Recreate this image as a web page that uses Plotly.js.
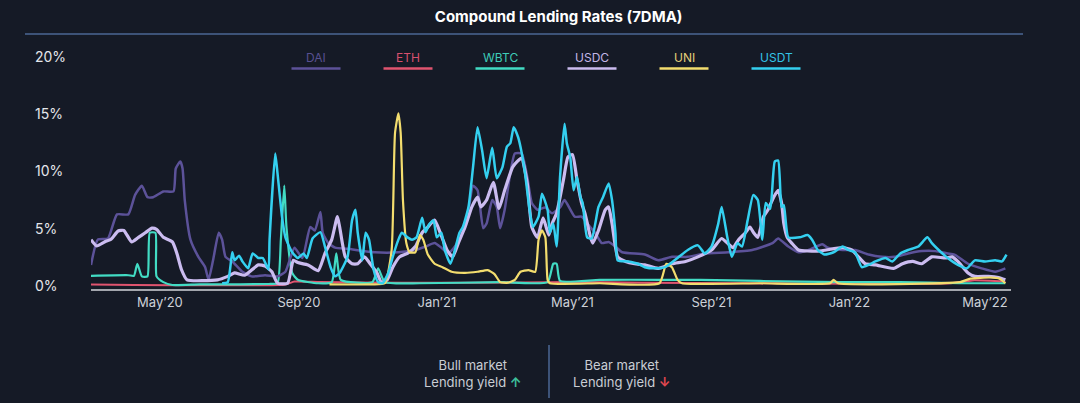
<!DOCTYPE html>
<html>
<head>
<meta charset="utf-8">
<script src="https://cdn.plot.ly/plotly-3.0.1.min.js"></script>
<style>
  html, body { margin: 0; padding: 0; background: #151a26; }
  #chart { width: 1080px; height: 403px; }
</style>
</head>
<body>
<div id="chart"></div>
<script>
// ---- Data (% APY, 7-day moving average) ----
const seriesNames = ["DAI", "ETH", "WBTC", "USDC", "UNI", "USDT"];

const daiDates = ["2020-03-01","2020-03-07","2020-03-16","2020-03-24","2020-04-03","2020-04-09","2020-04-15","2020-04-20","2020-04-25","2020-05-04","2020-05-13","2020-05-15","2020-05-19","2020-05-21","2020-05-23","2020-05-28","2020-06-04","2020-06-10","2020-06-13","2020-06-17","2020-06-22","2020-06-25","2020-06-28","2020-07-04","2020-07-13","2020-07-21","2020-08-02","2020-08-13","2020-08-20","2020-08-28","2020-09-04","2020-09-11","2020-09-15","2020-09-20","2020-09-22","2020-09-27","2020-10-03","2020-10-14","2020-11-07","2020-11-28","2020-12-13","2020-12-22","2020-12-30","2021-01-05","2021-01-11","2021-01-17","2021-01-23","2021-01-29","2021-02-02","2021-02-06","2021-02-11","2021-02-14","2021-02-19","2021-02-23","2021-02-26","2021-03-02","2021-03-07","2021-03-11","2021-03-17","2021-03-22","2021-03-26","2021-03-31","2021-04-07","2021-04-13","2021-04-20","2021-04-24","2021-05-03","2021-05-09","2021-05-15","2021-05-21","2021-05-27","2021-06-02","2021-06-08","2021-06-14","2021-07-04","2021-07-16","2021-07-28","2021-08-11","2021-08-26","2021-09-16","2021-10-07","2021-10-25","2021-10-30","2021-11-08","2021-11-17","2021-11-26","2021-12-08","2021-12-13","2021-12-26","2022-01-06","2022-01-18","2022-01-30","2022-02-10","2022-02-22","2022-03-06","2022-03-18","2022-03-29","2022-04-04","2022-04-16","2022-04-28","2022-05-10","2022-05-19"];
const daiValues = [1.8,4.0,4.1,6.2,6.2,7.9,8.7,7.7,7.7,8.2,8.2,10.2,10.8,10.2,7.4,4.0,2.5,1.6,0.5,2.2,4.6,4.0,2.5,2.1,1.2,0.8,0.9,0.8,1.2,3.3,2.4,5.1,4.8,6.4,4.6,3.7,3.3,3.2,2.9,2.9,3.1,3.4,3.7,3.3,2.8,3.4,4.65,6.6,8.7,8.3,5.0,5.4,7.45,6.85,5.0,6.6,9.8,11.5,11.5,9.45,7.2,6.6,6.8,6.3,6.8,7.45,6.0,6.0,5.3,4.6,3.7,3.8,3.4,2.9,2.7,2.2,2.5,2.5,2.8,2.9,3.1,3.7,4.1,3.4,2.9,3.1,3.6,3.3,3.1,3.1,2.7,2.5,2.5,2.8,3.0,3.0,2.8,2.7,1.9,1.5,1.2,1.5];

const ethDates = ["2020-03-01","2020-08-20","2020-08-28","2020-09-20","2020-12-01","2021-02-01","2021-05-01","2021-07-01","2021-10-01","2022-01-01","2022-04-01","2022-04-20","2022-05-19"];
const ethValues = [0.1,0.1,0.35,0.3,0.25,0.25,0.3,0.25,0.2,0.15,0.2,0.45,0.35];

const wbtcDates = ["2020-03-01","2020-04-03","2020-04-08","2020-04-11","2020-04-15","2020-04-20","2020-04-22","2020-04-27","2020-04-28","2020-05-04","2020-05-12","2020-06-05","2020-07-11","2020-08-06","2020-08-13","2020-08-16","2020-08-19","2020-08-21","2020-08-26","2020-08-31","2020-09-18","2020-09-30","2020-10-04","2020-10-08","2020-11-05","2020-11-10","2020-11-16","2020-12-17","2021-02-26","2021-04-09","2021-04-14","2021-04-17","2021-04-20","2021-05-25","2021-07-18","2021-08-22","2021-10-14","2021-12-24","2022-02-15","2022-04-09","2022-05-19"];
const wbtcValues = [0.85,0.9,0.85,1.9,0.8,0.8,4.6,4.6,0.8,0.3,0.05,0.1,0.1,0.15,0.2,4.0,8.7,5.0,1.1,0.5,0.2,0.3,2.8,0.5,0.3,1.5,0.3,0.2,0.3,0.3,1.9,1.9,0.4,0.5,0.5,0.5,0.4,0.3,0.3,0.2,0.2];

const usdcDates = ["2020-03-01","2020-03-06","2020-03-13","2020-03-19","2020-03-25","2020-03-30","2020-04-06","2020-04-12","2020-04-18","2020-04-24","2020-04-28","2020-05-04","2020-05-12","2020-05-16","2020-05-20","2020-05-25","2020-06-21","2020-06-30","2020-07-06","2020-07-15","2020-07-27","2020-08-02","2020-08-08","2020-08-13","2020-08-22","2020-08-27","2020-08-31","2020-09-09","2020-09-18","2020-09-24","2020-09-30","2020-10-05","2020-10-07","2020-10-12","2020-10-18","2020-10-23","2020-10-29","2020-11-03","2020-11-09","2020-11-13","2020-11-18","2020-11-23","2020-11-29","2020-12-06","2020-12-13","2020-12-19","2020-12-24","2020-12-30","2021-01-04","2021-01-10","2021-01-15","2021-01-20","2021-01-26","2021-02-01","2021-02-06","2021-02-09","2021-02-14","2021-02-20","2021-02-25","2021-03-02","2021-03-09","2021-03-13","2021-03-17","2021-03-22","2021-03-26","2021-03-31","2021-04-05","2021-04-10","2021-04-13","2021-04-17","2021-04-23","2021-04-27","2021-05-01","2021-05-05","2021-05-09","2021-05-12","2021-05-17","2021-05-19","2021-05-24","2021-05-30","2021-06-02","2021-06-05","2021-06-10","2021-06-17","2021-06-25","2021-07-04","2021-07-16","2021-07-28","2021-08-09","2021-08-20","2021-09-01","2021-09-10","2021-09-15","2021-09-20","2021-09-25","2021-10-01","2021-10-05","2021-10-08","2021-10-12","2021-10-17","2021-10-21","2021-10-26","2021-10-30","2021-11-02","2021-11-04","2021-11-07","2021-11-11","2021-11-17","2021-12-04","2021-12-26","2022-01-03","2022-01-09","2022-01-15","2022-01-24","2022-02-09","2022-02-17","2022-02-26","2022-03-06","2022-03-15","2022-03-27","2022-04-02","2022-04-07","2022-04-16","2022-04-22","2022-05-04","2022-05-13","2022-05-19"];
const usdcValues = [4.0,3.45,3.8,4.05,4.75,4.8,3.8,4.2,4.6,5.0,4.9,4.2,3.8,2.8,1.4,0.5,0.5,0.8,1.1,0.9,1.8,1.7,1.2,0.2,0.2,2.2,2.0,1.8,1.3,2.8,4.0,6.0,5.1,2.5,1.9,1.9,2.5,1.9,1.1,0.3,0.5,1.6,2.5,2.8,3.4,4.6,5.1,5.7,4.6,3.1,2.5,3.7,5.1,6.85,7.7,6.85,7.45,9.0,6.7,8.3,10.3,10.8,11.1,8.9,5.1,4.2,5.9,4.4,5.4,6.3,9.2,11.2,11.4,9.2,7.2,6.3,4.2,3.7,4.8,6.6,6.85,5.4,2.5,2.1,1.9,1.8,1.5,1.9,2.1,2.5,3.1,4.1,3.7,3.3,4.0,4.6,5.1,4.65,4.2,6.0,6.6,7.7,8.3,7.2,5.4,4.2,3.7,3.1,3.0,3.3,3.1,2.5,1.9,1.8,1.5,1.9,2.1,1.9,2.5,2.4,2.5,2.1,1.1,0.8,0.8,0.7,0.5];

const uniDates = ["2020-09-28","2020-11-05","2020-11-16","2020-11-22","2020-11-25","2020-11-28","2020-11-30","2020-12-02","2020-12-05","2020-12-08","2020-12-13","2020-12-17","2020-12-20","2020-12-24","2020-12-30","2021-01-06","2021-01-14","2021-01-26","2021-02-06","2021-02-15","2021-02-21","2021-02-26","2021-03-05","2021-03-11","2021-03-16","2021-03-23","2021-03-29","2021-04-01","2021-04-04","2021-04-07","2021-04-09","2021-04-11","2021-05-25","2021-07-17","2021-07-23","2021-07-28","2021-08-02","2021-08-06","2021-10-14","2021-12-15","2021-12-18","2021-12-22","2022-04-09","2022-04-18","2022-05-06","2022-05-14","2022-05-19"];
const uniValues = [0.1,0.1,0.2,3.1,13.3,15.0,13.3,7.45,3.7,2.9,2.9,4.4,4.0,2.7,1.9,1.6,1.2,1.1,1.2,1.35,1.0,0.3,0.25,0.5,1.2,1.35,1.2,4.0,4.8,4.2,0.5,0.2,0.2,0.2,1.9,1.6,0.5,0.2,0.2,0.2,0.5,0.2,0.3,0.6,0.7,0.6,0.2];

const usdtDates = ["2020-06-25","2020-06-30","2020-07-04","2020-07-06","2020-07-10","2020-07-13","2020-07-18","2020-07-22","2020-07-27","2020-07-31","2020-08-05","2020-08-06","2020-08-11","2020-08-13","2020-08-17","2020-08-20","2020-08-26","2020-08-31","2020-09-05","2020-09-08","2020-09-13","2020-09-20","2020-09-24","2020-09-29","2020-10-03","2020-10-07","2020-10-14","2020-10-18","2020-10-21","2020-10-23","2020-10-27","2020-10-30","2020-11-02","2020-11-06","2020-11-10","2020-11-14","2020-11-19","2020-11-23","2020-11-28","2020-12-01","2020-12-06","2020-12-10","2020-12-14","2020-12-19","2020-12-22","2020-12-25","2020-12-29","2021-01-01","2021-01-05","2021-01-08","2021-01-13","2021-01-17","2021-01-21","2021-01-24","2021-01-29","2021-02-02","2021-02-06","2021-02-10","2021-02-14","2021-02-19","2021-02-23","2021-02-28","2021-03-04","2021-03-07","2021-03-10","2021-03-14","2021-03-17","2021-03-20","2021-03-24","2021-03-27","2021-04-01","2021-04-04","2021-04-09","2021-04-11","2021-04-14","2021-04-17","2021-04-20","2021-04-24","2021-04-26","2021-04-29","2021-05-02","2021-05-05","2021-05-08","2021-05-10","2021-05-14","2021-05-18","2021-05-24","2021-05-28","2021-06-02","2021-06-05","2021-06-08","2021-06-10","2021-06-19","2021-06-28","2021-07-04","2021-07-13","2021-07-22","2021-08-02","2021-08-11","2021-08-20","2021-08-26","2021-09-01","2021-09-07","2021-09-10","2021-09-15","2021-09-19","2021-09-24","2021-09-28","2021-10-03","2021-10-08","2021-10-12","2021-10-16","2021-10-19","2021-10-23","2021-10-27","2021-10-30","2021-11-02","2021-11-04","2021-11-08","2021-11-18","2021-11-25","2021-11-29","2021-12-04","2021-12-10","2021-12-18","2021-12-26","2021-12-31","2022-01-06","2022-01-12","2022-01-18","2022-01-24","2022-02-02","2022-02-08","2022-02-15","2022-02-22","2022-03-03","2022-03-11","2022-03-15","2022-03-21","2022-03-29","2022-04-07","2022-04-15","2022-04-22","2022-05-01","2022-05-10","2022-05-16","2022-05-20"];
const usdtValues = [0.2,0.3,2.9,2.2,2.6,2.1,1.5,2.8,2.4,2.4,1.4,4.0,11.5,9.8,6.0,4.2,2.9,2.4,2.8,2.4,4.1,4.65,3.4,1.6,0.8,1.1,2.5,5.7,6.6,4.6,2.2,4.6,4.0,1.4,0.3,0.2,1.1,2.5,4.0,4.6,4.2,4.0,4.2,5.9,4.65,5.3,5.7,4.2,4.6,3.1,1.9,3.1,4.6,5.1,6.85,10.3,13.8,11.8,9.35,12.0,9.35,10.3,12.1,12.4,13.8,12.9,11.6,9.8,6.6,5.1,6.0,8.0,6.6,4.6,5.4,3.4,9.45,14.1,12.4,11.2,8.3,9.45,7.7,7.2,4.2,4.1,6.85,7.7,8.9,7.45,4.6,2.2,2.1,1.9,1.6,1.5,1.6,2.4,3.1,3.5,2.8,3.4,5.4,6.85,4.2,2.5,3.7,3.4,5.7,7.9,7.45,4.0,7.2,6.7,10.8,10.9,6.85,7.0,4.2,4.2,4.4,4.0,3.1,2.7,2.9,3.4,3.1,2.9,1.6,1.8,2.1,2.4,2.1,2.8,3.1,3.4,4.2,3.7,3.1,2.4,1.8,1.5,2.2,2.1,2.2,2.1,2.7];

const xTickDates = ["2020-05-01","2020-09-01","2021-01-01","2021-05-01","2021-09-01","2022-01-01","2022-05-01"];
const xTickLabels = ["May’20","Sep’20","Jan’21","May’21","Sep’21","Jan’22","May’22"];
const yTickValues = [0, 5, 10, 15, 20];
const yTickLabels = ["0%", "5%", "10%", "15%", "20%"];

// ---- Styles ----
const lineColors = { DAI: "#5c5299", ETH: "#e0546f", WBTC: "#42dcc4", USDC: "#cbbcf0", UNI: "#f3dd6e", USDT: "#34d0f0" };
const legendTextColors = { DAI: "#585090", ETH: "#d8506d", WBTC: "#3ecdb8", USDC: "#c3b6e8", UNI: "#e3d07a", USDT: "#33c3e6" };
const lineWidths = { DAI: 2.5, ETH: 2, WBTC: 2.2, USDC: 3.2, UNI: 2.2, USDT: 2.5 };

const seriesData = {
  DAI: [daiDates, daiValues], ETH: [ethDates, ethValues], WBTC: [wbtcDates, wbtcValues],
  USDC: [usdcDates, usdcValues], UNI: [uniDates, uniValues], USDT: [usdtDates, usdtValues]
};
const drawOrder = ["ETH", "WBTC", "DAI", "USDC", "UNI", "USDT"];

const traces = drawOrder.map(name => ({
  type: "scatter", mode: "lines", name: name,
  x: seriesData[name][0], y: seriesData[name][1],
  line: { color: lineColors[name], width: lineWidths[name], shape: "spline", smoothing: 0.5 },
  hoverinfo: "skip", showlegend: false
}));

// plot area geometry (paper coords)
const W = 1080, H = 403;
const M = { l: 91, r: 69, t: 56, b: 114 };
const pw = W - M.l - M.r, ph = H - M.t - M.b;
const px = x => (x - M.l) / pw;
const py = y => (H - M.b - y) / ph;

const annotations = [];
const shapes = [];

// y labels (left aligned, like the reference)
yTickValues.forEach((v, i) => {
  annotations.push({ xref: "paper", yref: "y", x: px(33), y: v, xanchor: "left", yanchor: "middle",
    text: yTickLabels[i], showarrow: false, font: { family: "Inter, sans-serif", size: 14, color: "#e4e6eb" } });
});

// custom legend: text above a coloured bar
const legendCenters = [316, 408, 500, 592, 684, 776];
seriesNames.forEach((name, i) => {
  const cx = legendCenters[i];
  annotations.push({ xref: "paper", yref: "paper", x: px(cx), y: py(58), xanchor: "center", yanchor: "middle",
    text: name, showarrow: false, font: { family: "Inter, sans-serif", size: 12, color: legendTextColors[name] } });
  shapes.push({ type: "line", xref: "paper", yref: "paper", x0: px(cx - 24.5), x1: px(cx + 24.5), y0: py(68.5), y1: py(68.5),
    line: { color: lineColors[name], width: 2.5 } });
});

// title underline
shapes.push({ type: "line", xref: "paper", yref: "paper", x0: px(25), x1: px(1023), y0: py(34), y1: py(34),
  line: { color: "#3d5378", width: 2 } });

// bottom note
const noteFont = { family: "Inter, sans-serif", size: 13, color: "#c9cdd4" };
annotations.push({ xref: "paper", yref: "paper", x: px(473), y: py(373), xanchor: "center", yanchor: "middle", showarrow: false,
  align: "center", text: "Bull market<br>Lending yield <span style='color:#3dbf9a'><b>↑</b></span>", font: noteFont });
annotations.push({ xref: "paper", yref: "paper", x: px(622), y: py(373), xanchor: "center", yanchor: "middle", showarrow: false,
  align: "center", text: "Bear market<br>Lending yield <span style='color:#e0474f'><b>↓</b></span>", font: noteFont });
shapes.push({ type: "line", xref: "paper", yref: "paper", x0: px(549), x1: px(549), y0: py(345), y1: py(398),
  line: { color: "#3d5378", width: 2 } });

const layout = {
  width: W, height: H,
  margin: M,
  paper_bgcolor: "#151a26", plot_bgcolor: "#151a26",
  font: { family: "Inter, sans-serif", color: "#d0d4db" },
  showlegend: false,
  title: { text: "<b>Compound Lending Rates (7DMA)</b>", x: 549 / W, xanchor: "center", xref: "paper",
    y: 1 - 17 / H, yanchor: "middle", yref: "container",
    font: { family: "Inter, sans-serif", size: 15, color: "#ffffff" } },
  xaxis: {
    type: "date", range: ["2020-03-01", "2022-05-24"],
    tickvals: xTickDates, ticktext: xTickLabels,
    showgrid: false, zeroline: false, showline: true, linecolor: "#a3a6ad", linewidth: 2,
    ticks: "", ticklen: 0,
    tickfont: { family: "Inter, sans-serif", size: 13, color: "#cdd1d8" }
  },
  yaxis: {
    range: [-0.3, 20], showgrid: false, zeroline: false, showline: false,
    showticklabels: false, ticks: ""
  },
  annotations: annotations,
  shapes: shapes
};

Plotly.newPlot("chart", traces, layout, { staticPlot: true, displayModeBar: false });
</script>
</body>
</html>
